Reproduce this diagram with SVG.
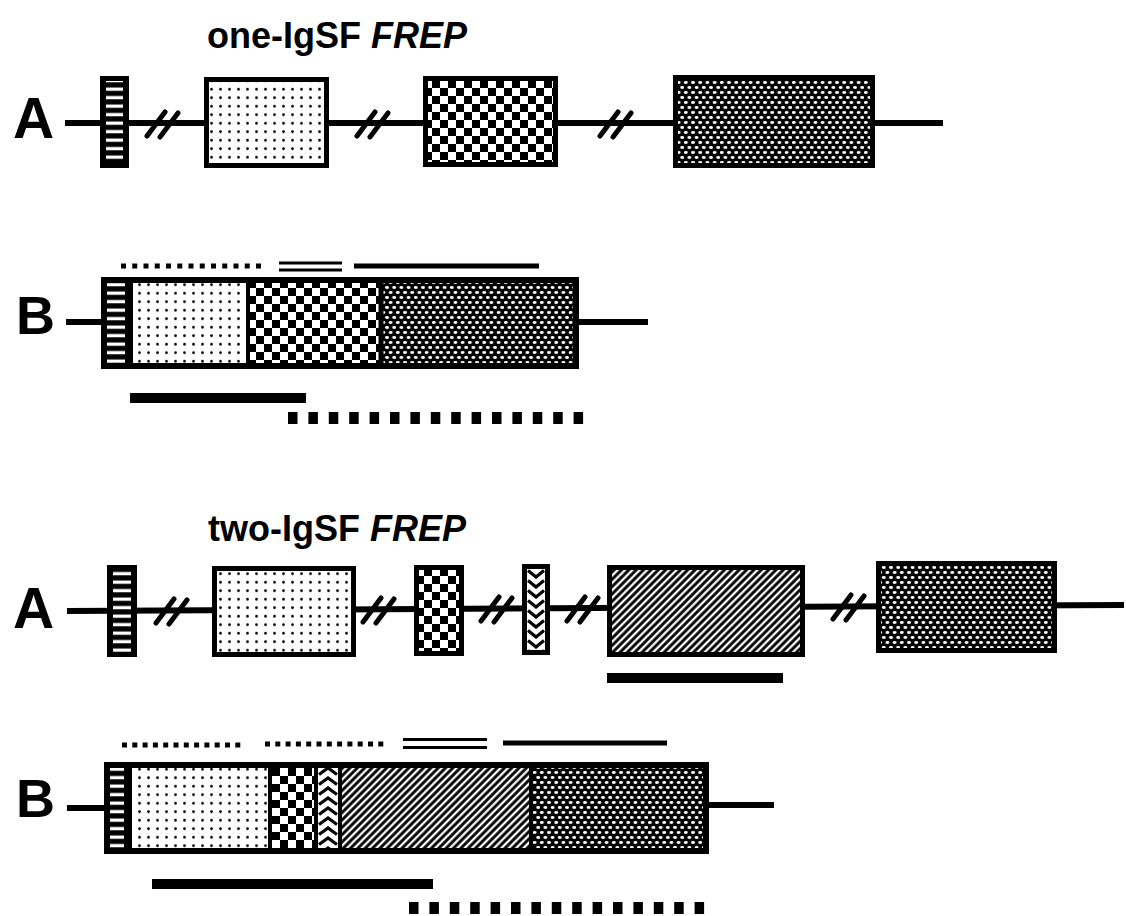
<svg xmlns="http://www.w3.org/2000/svg" width="1126" height="916" viewBox="0 0 1126 916">
<style>
.lbl{font-family:"Liberation Sans",Arial,sans-serif;font-weight:bold;fill:#000}
.ttl{font-family:"Liberation Sans",Arial,sans-serif;font-weight:bold;font-size:36px;fill:#000}
.bb{fill:none;stroke:#000;stroke-width:5}
.ln{stroke:#000;stroke-width:6;fill:none}
.brk{stroke:#000;stroke-width:5;stroke-linecap:round;fill:none}
.dot{stroke:#000;stroke-width:5;fill:none}
.dbl{stroke:#000;stroke-width:2.8;fill:none}
.sol{stroke:#000;stroke-width:5;fill:none}
.bar{stroke:#000;stroke-width:10;fill:none}
.hd{stroke:#000;stroke-width:12;stroke-dasharray:9.5 10.9;fill:none}
</style>
<defs>
<pattern id="bars" width="10" height="8.5" patternUnits="userSpaceOnUse"><rect width="10" height="8.5" fill="#000"/><rect y="2.5" width="10" height="3.3" fill="#fff"/></pattern>
<pattern id="dots" width="9" height="8.5" patternUnits="userSpaceOnUse"><rect width="9" height="8.5" fill="#fff"/><circle cx="4.5" cy="4.25" r="1.4" fill="#000"/></pattern>
<pattern id="check" width="16" height="16" patternUnits="userSpaceOnUse"><rect width="16" height="16" fill="#fff"/><rect width="8" height="8" fill="#000"/><rect x="8" y="8" width="8" height="8" fill="#000"/></pattern>
<pattern id="dense" width="7.2" height="10" patternUnits="userSpaceOnUse"><rect width="7.2" height="10" fill="#000"/><ellipse cx="1.8" cy="2.5" rx="2" ry="1.4" fill="#fff"/><ellipse cx="5.4" cy="7.5" rx="2" ry="1.4" fill="#fff"/></pattern>
<pattern id="hatch" width="10" height="5.2" patternUnits="userSpaceOnUse" patternTransform="rotate(-45)"><rect width="10" height="5.2" fill="#000"/><rect y="1.5" width="10" height="2.3" fill="#fff"/></pattern>
<pattern id="chevD" x="527" y="569" width="18" height="10" patternUnits="userSpaceOnUse"><rect width="18" height="10" fill="#fff"/><path d="M1,1.5 L9,8 L17,1.5" stroke="#000" stroke-width="3.2" fill="none"/></pattern>
<pattern id="chevU" x="318" y="766" width="20" height="10" patternUnits="userSpaceOnUse"><rect width="20" height="10" fill="#fff"/><path d="M1,8.5 L10,2 L19,8.5" stroke="#000" stroke-width="3.2" fill="none"/></pattern>
</defs>
<rect width="1126" height="916" fill="#fff"/>

<text id="title1" class="ttl" x="207" y="48">one-IgSF <tspan font-style="italic">FREP</tspan></text>
<text id="title2" class="ttl" x="208" y="541">two-IgSF <tspan font-style="italic">FREP</tspan></text>

<text id="labelA1" class="lbl" x="13" y="138" font-size="57">A</text>
<text id="labelB1" class="lbl" x="16" y="334" font-size="54">B</text>
<text id="labelA2" class="lbl" x="13" y="628" font-size="57">A</text>
<text id="labelB2" class="lbl" x="16" y="817" font-size="54">B</text>

<g id="connectors">
<line class="ln" x1="65" y1="123" x2="943" y2="123"/>
<line class="ln" x1="66" y1="322" x2="101" y2="322"/>
<line class="ln" x1="579" y1="322" x2="648" y2="322"/>
<line class="ln" x1="67" y1="611" x2="1124" y2="605"/>
<line class="ln" x1="67" y1="808" x2="104" y2="808"/>
<line class="ln" x1="709" y1="805" x2="774" y2="805"/>
<g id="breaks">
<path class="brk" d="M147,136 L165,112 M160,137 L178,113"/>
<path class="brk" d="M357,136 L375,112 M370,137 L388,113"/>
<path class="brk" d="M600,136 L618,112 M613,137 L631,113"/>
<path class="brk" d="M156,623 L174,599 M169,624 L187,600"/>
<path class="brk" d="M363,622 L381,598 M376,623 L394,599"/>
<path class="brk" d="M481,621 L499,597 M494,622 L512,598"/>
<path class="brk" d="M567,621 L585,597 M580,622 L598,598"/>
<path class="brk" d="M833,619 L851,595 M846,620 L864,596"/>
</g>
</g>

<g id="oneA-signal"><rect x="100" y="76" width="29" height="92" fill="#000"/><rect x="106" y="81" width="17" height="82" fill="url(#bars)"/></g>
<g id="oneA-ig"><rect x="206.5" y="79.5" width="120" height="86" fill="url(#dots)"/><rect x="206.5" y="79.5" width="120" height="86" class="bb"/></g>
<g id="oneA-ic"><rect x="425.5" y="78.5" width="130" height="86" fill="url(#check)"/><rect x="425.5" y="78.5" width="130" height="86" class="bb"/></g>
<g id="oneA-fbg"><rect x="675.5" y="77.5" width="197" height="88" fill="url(#dense)"/><rect x="675.5" y="77.5" width="197" height="88" class="bb"/></g>

<g id="oneB-annot-above">
<line class="dot" x1="121" y1="266" x2="262" y2="266" stroke-dasharray="5 6.25"/>
<line class="dbl" x1="279" y1="263" x2="342" y2="263"/>
<line class="dbl" x1="279" y1="270" x2="342" y2="270"/>
<line class="sol" x1="354" y1="266" x2="539" y2="266"/>
</g>
<g id="oneB-transcript">
<rect x="101" y="277" width="30" height="92" fill="#000"/>
<rect x="107" y="283" width="18" height="80" fill="url(#bars)"/>
<rect x="131" y="280" width="117" height="86" fill="url(#dots)"/>
<rect x="248" y="280" width="133" height="86" fill="url(#check)"/>
<rect x="381" y="280" width="198" height="86" fill="url(#dense)"/>
<line x1="131" y1="278" x2="131" y2="368" stroke="#000" stroke-width="4"/>
<line x1="248" y1="278" x2="248" y2="368" stroke="#000" stroke-width="4"/>
<line x1="381" y1="278" x2="381" y2="368" stroke="#000" stroke-width="5"/>
<rect x="104" y="280" width="472" height="86" fill="none" stroke="#000" stroke-width="6"/>
</g>
<g id="oneB-annot-below">
<line class="bar" x1="130" y1="398" x2="306" y2="398"/>
<line class="hd" x1="288" y1="418" x2="585" y2="418"/>
</g>

<g id="twoA-signal"><rect x="107" y="565" width="30" height="92" fill="#000"/><rect x="113" y="570" width="18" height="82" fill="url(#bars)"/></g>
<g id="twoA-ig1"><rect x="214.5" y="568.5" width="139" height="86" fill="url(#dots)"/><rect x="214.5" y="568.5" width="139" height="86" class="bb"/></g>
<g id="twoA-ic1"><rect x="416.5" y="567.5" width="45" height="86" fill="url(#check)"/><rect x="416.5" y="567.5" width="45" height="86" class="bb"/></g>
<g id="twoA-ic2"><rect x="524.5" y="566.5" width="23" height="86" fill="url(#chevD)"/><rect x="524.5" y="566.5" width="23" height="86" class="bb"/></g>
<g id="twoA-ig2"><rect x="609.5" y="567.5" width="193" height="87" fill="url(#hatch)"/><rect x="609.5" y="567.5" width="193" height="87" class="bb"/></g>
<g id="twoA-fbg"><rect x="878.5" y="563.5" width="176" height="87" fill="url(#dense)"/><rect x="878.5" y="563.5" width="176" height="87" class="bb"/></g>
<g id="twoA-annot"><line class="bar" x1="607" y1="678" x2="783" y2="678"/></g>

<g id="twoB-annot-above">
<line class="dot" x1="122" y1="745" x2="241" y2="745" stroke-dasharray="5 5.3"/>
<line class="dot" x1="265" y1="744" x2="384" y2="744" stroke-dasharray="5 5.3"/>
<line class="dbl" x1="403" y1="739.5" x2="487" y2="739.5"/>
<line class="dbl" x1="403" y1="747.5" x2="487" y2="747.5"/>
<line class="sol" x1="503" y1="743" x2="667" y2="743"/>
</g>
<g id="twoB-transcript">
<rect x="104" y="762" width="26" height="92" fill="#000"/>
<rect x="109" y="768" width="15" height="80" fill="url(#bars)"/>
<rect x="130" y="765" width="140" height="86" fill="url(#dots)"/>
<rect x="270" y="765" width="46" height="86" fill="url(#check)"/>
<rect x="316" y="765" width="24" height="86" fill="url(#chevU)"/>
<rect x="340" y="765" width="191" height="86" fill="url(#hatch)"/>
<rect x="531" y="765" width="178" height="86" fill="url(#dense)"/>
<line x1="130" y1="763" x2="130" y2="853" stroke="#000" stroke-width="4"/>
<line x1="270" y1="763" x2="270" y2="853" stroke="#000" stroke-width="4"/>
<line x1="316" y1="763" x2="316" y2="853" stroke="#000" stroke-width="4"/>
<line x1="340" y1="763" x2="340" y2="853" stroke="#000" stroke-width="4"/>
<line x1="531" y1="763" x2="531" y2="853" stroke="#000" stroke-width="4"/>
<rect x="107" y="765" width="599" height="86" fill="none" stroke="#000" stroke-width="6"/>
</g>
<g id="twoB-annot-below">
<line class="bar" x1="152" y1="884" x2="433" y2="884"/>
<line class="hd" x1="409" y1="908" x2="708" y2="908"/>
</g>
</svg>
